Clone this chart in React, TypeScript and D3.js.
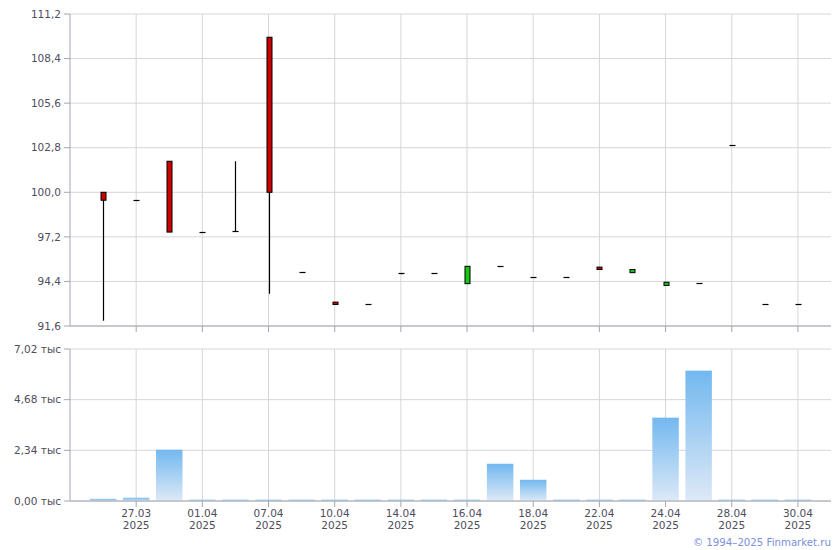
import React from "react";
import * as d3 from "d3";

const dates = ["26.03","27.03","28.03","01.04","02.04","07.04","08.04","10.04","11.04","14.04","15.04","16.04","17.04","18.04","21.04","22.04","23.04","24.04","25.04","28.04","29.04","30.04"];
const openV = [100.0, 99.5, 101.95, 97.5, 97.55, 109.74, 94.97, 93.1, 92.96, 94.91, 94.91, 94.26, 95.35, 94.66, 94.66, 95.3, 94.95, 94.15, 94.28, 102.95, 92.96, 92.96];
const highV = [100.0, 99.5, 101.95, 97.5, 101.95, 109.74, 94.97, 93.1, 92.96, 94.91, 94.91, 95.35, 95.35, 94.66, 94.66, 95.3, 95.15, 94.35, 94.28, 102.95, 92.96, 92.96];
const lowV = [91.93, 99.5, 97.5, 97.5, 97.55, 93.63, 94.97, 92.95, 92.96, 94.85, 94.91, 94.26, 95.35, 94.66, 94.66, 95.15, 94.95, 94.15, 94.28, 102.95, 92.96, 92.96];
const closeV = [99.5, 99.5, 97.5, 97.5, 97.55, 100.0, 94.97, 92.95, 92.96, 94.91, 94.91, 95.35, 95.35, 94.66, 94.66, 95.15, 95.15, 94.35, 94.28, 102.95, 92.96, 92.96];
const volumeK = [0.10, 0.15, 2.37, 0.06, 0.06, 0.06, 0.06, 0.06, 0.06, 0.06, 0.06, 0.06, 1.72, 0.98, 0.06, 0.06, 0.06, 3.85, 6.02, 0.06, 0.06, 0.06];
const priceTicks = [91.6, 94.4, 97.2, 100.0, 102.8, 105.6, 108.4, 111.2];
const volTicks = [0, 2.34, 4.68, 7.02];
const yearLabel = "2025";
const copyright = "© 1994–2025 Finmarket.ru";

const W = 840, H = 550;
const L = 70, R = 831;
const PT = 14, PB = 326;
const VT = 349, VB = 501;
const FONT = "'DejaVu Sans', Verdana, sans-serif";
const GRID = "#d3d7db";
const AXIS = "#a3a6b0";
const TEXT = "#4d4d5c";

export default function App() {
  const x = d3.scaleLinear().domain([0, dates.length + 1]).range([L, R]);
  const step = x(1) - x(0);
  const yP = d3.scaleLinear().domain([91.6, 111.2]).range([PB, PT]);
  const yV = d3.scaleLinear().domain([0, 7.02]).range([VB, VT]);
  const idx = d3.range(dates.length);
  const tickIdx = idx.filter((i) => (i + 1) % 2 === 0);
  const fmtP = (v: number) => v.toFixed(1).replace(".", ",");
  const fmtV = (v: number) => v.toFixed(2).replace(".", ",") + " тыс";
  const bw = 5;
  const vbw = step * 0.8;

  return (
    <svg width={W} height={H} style={{ position: "absolute", left: 0, top: 0, background: "#fff" }} fontFamily={FONT}>
      <defs>
        <linearGradient id="volg" x1="0" y1="0" x2="0" y2="1">
          <stop offset="0%" stopColor="#72b8ef" />
          <stop offset="100%" stopColor="#dde9f7" />
        </linearGradient>
      </defs>
      {priceTicks.map((t) => (
        <line key={"pg" + t} x1={L} x2={R} y1={yP(t)} y2={yP(t)} stroke={GRID} strokeWidth={1} />
      ))}
      {tickIdx.map((i) => (
        <line key={"pv" + i} x1={x(i + 1)} x2={x(i + 1)} y1={PT} y2={PB} stroke={GRID} strokeWidth={1} />
      ))}
      {volTicks.map((t) => (
        <line key={"vg" + t} x1={L} x2={R} y1={yV(t)} y2={yV(t)} stroke={GRID} strokeWidth={1} />
      ))}
      {tickIdx.map((i) => (
        <line key={"vv" + i} x1={x(i + 1)} x2={x(i + 1)} y1={VT} y2={VB} stroke={GRID} strokeWidth={1} />
      ))}
      {idx.map((i) => (
        <rect key={"vb" + i} x={x(i + 1) - vbw / 2} width={vbw} y={yV(volumeK[i])} height={VB - yV(volumeK[i])} fill="url(#volg)" />
      ))}
      {idx.map((i) => {
        const cx = Math.round(x(i + 1)) + 0.5;
        const o = openV[i], c = closeV[i], h = highV[i], l = lowV[i];
        const top = yP(Math.max(o, c)), bot = yP(Math.min(o, c));
        const up = c > o;
        return (
          <g key={"c" + i}>
            {h !== l && <line x1={cx} x2={cx} y1={yP(h)} y2={yP(l)} stroke="#000" strokeWidth={1.2} />}
            {o === c ? (
              <line x1={cx - 3} x2={cx + 3} y1={Math.round(top) + 0.5} y2={Math.round(top) + 0.5} stroke="#000" strokeWidth={1.2} />
            ) : (
              <rect x={cx - bw / 2} width={bw} y={top} height={Math.max(bot - top, 1.5)} fill={up ? "#14c814" : "#cc0000"} stroke="#000" strokeWidth={1} />
            )}
          </g>
        );
      })}
      <line x1={L} x2={L} y1={PT} y2={PB} stroke={AXIS} strokeWidth={1} />
      <line x1={L} x2={R} y1={PB} y2={PB} stroke={AXIS} strokeWidth={1} />
      {priceTicks.map((t) => (
        <g key={"pt" + t}>
          <line x1={L - 6} x2={L} y1={yP(t)} y2={yP(t)} stroke={AXIS} />
          <text x={L - 9} y={yP(t)} dy="0.35em" textAnchor="end" fontSize={10.5} fill={TEXT}>{fmtP(t)}</text>
        </g>
      ))}
      {tickIdx.map((i) => (
        <line key={"ptx" + i} x1={x(i + 1)} x2={x(i + 1)} y1={PB} y2={PB + 6} stroke={AXIS} />
      ))}
      <line x1={L} x2={L} y1={VT} y2={VB} stroke={AXIS} strokeWidth={1} />
      <line x1={L} x2={R} y1={VB} y2={VB} stroke={AXIS} strokeWidth={1} />
      {volTicks.map((t) => (
        <g key={"vt" + t}>
          <line x1={L - 6} x2={L} y1={yV(t)} y2={yV(t)} stroke={AXIS} />
          <text x={L - 9} y={yV(t)} dy="0.35em" textAnchor="end" fontSize={10.5} fill={TEXT}>{fmtV(t)}</text>
        </g>
      ))}
      {tickIdx.map((i) => (
        <g key={"vtx" + i}>
          <line x1={x(i + 1)} x2={x(i + 1)} y1={VB} y2={VB + 6} stroke={AXIS} />
          <text x={x(i + 1)} y={VB + 16} textAnchor="middle" fontSize={10.5} fill={TEXT}>{dates[i]}</text>
          <text x={x(i + 1)} y={VB + 28} textAnchor="middle" fontSize={10.5} fill={TEXT}>{yearLabel}</text>
        </g>
      ))}
      <text x={R} y={546} textAnchor="end" fontSize={10.2} fill="#7a8fdc">{copyright}</text>
    </svg>
  );
}
